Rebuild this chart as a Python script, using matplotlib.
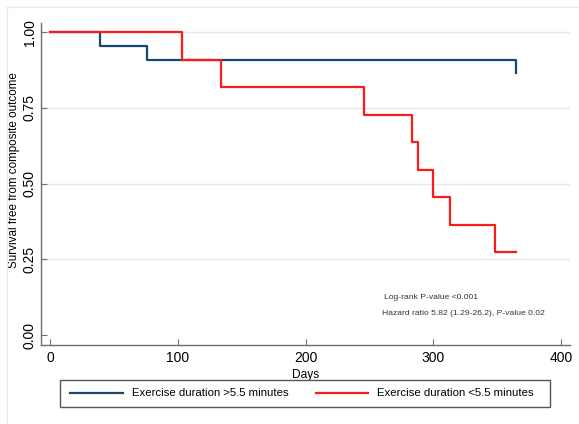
import matplotlib.pyplot as plt
from matplotlib.lines import Line2D
from matplotlib.patches import Rectangle

plt.rcParams['font.family'] = ['Liberation Sans', 'DejaVu Sans']

# Kaplan-Meier step values
days_long = [0, 39, 76, 365, 365]
surv_long = [1.0, 0.955, 0.907, 0.907, 0.864]
days_short = [0, 103, 134, 246, 283, 288, 300, 313, 348, 365]
surv_short = [1.0, 0.909, 0.818, 0.727, 0.636, 0.545, 0.455, 0.364, 0.273, 0.273]

label_long = 'Exercise duration >5.5 minutes'
label_short = 'Exercise duration <5.5 minutes'
xticks = [0, 100, 200, 300, 400]
yticks = [0.0, 0.25, 0.5, 0.75, 1.0]
ytick_labels = ['0.00', '0.25', '0.50', '0.75', '1.00']

navy = '#1a476f'
red = '#ff1a1a'
axis_grey = '#6e6e6e'

fig = plt.figure(figsize=(5.79, 4.24), dpi=100)
W, H = 579, 424

# faint outer plot-region border (left and top edges only are visible)
fig.add_artist(Line2D([7 / W, 7 / W], [0, 1 - 7 / H], transform=fig.transFigure,
                      color='#e6ecef', lw=1.0))
fig.add_artist(Line2D([7 / W, 1], [1 - 7 / H, 1 - 7 / H], transform=fig.transFigure,
                      color='#e6ecef', lw=1.0))

ax = fig.add_axes([41 / W, 1 - 345 / H, (570 - 41) / W, (345 - 23) / H])
ax.set_xlim(-7, 407)
ax.set_ylim(-0.033, 1.03)

for y in yticks[1:]:
    ax.axhline(y, color='#e4ebef', lw=1.0, zorder=0)

ax.step(days_long, surv_long, where='post', color=navy, lw=1.6, label=label_long)
ax.step(days_short, surv_short, where='post', color=red, lw=1.6, label=label_short)

ax.spines['top'].set_visible(False)
ax.spines['right'].set_visible(False)
for s in ['left', 'bottom']:
    ax.spines[s].set_color(axis_grey)
    ax.spines[s].set_linewidth(1.0)

ax.set_xticks(xticks)
ax.set_yticks(yticks)
ax.set_yticklabels(ytick_labels, rotation=90, va='center')
ax.tick_params(direction='in', length=4, width=0.8, color=axis_grey, labelsize=10,
               pad=4)
ax.tick_params(axis='y', pad=3)

ax.set_xlabel('Days', fontsize=8.6, labelpad=3)
ax.set_ylabel('Survival free from composite outcome', fontsize=8.4, labelpad=2, y=0.543)

ax.text(0.648, 0.146, 'Log-rank P-value <0.001', transform=ax.transAxes, fontsize=6.1,
        color='#333333', va='center')
ax.text(0.645, 0.099, 'Hazard ratio 5.82 (1.29-26.2), P-value 0.02', transform=ax.transAxes,
        fontsize=6.1, color='#333333', va='center')

# legend box drawn separately so its size matches the Stata one
fig.patches.append(Rectangle((60 / W, 1 - 407 / H), 490 / W, 27 / H,
                             transform=fig.transFigure, fill=False,
                             edgecolor='#555555', lw=1.0))
fig.legend(loc='center', bbox_to_anchor=(302 / W, 1 - 393.5 / H), ncol=2,
           fontsize=8.2, frameon=False, handlelength=4.6, columnspacing=2.4,
           borderpad=0.3, handletextpad=0.8)

fig.savefig('out.png', dpi=100)
